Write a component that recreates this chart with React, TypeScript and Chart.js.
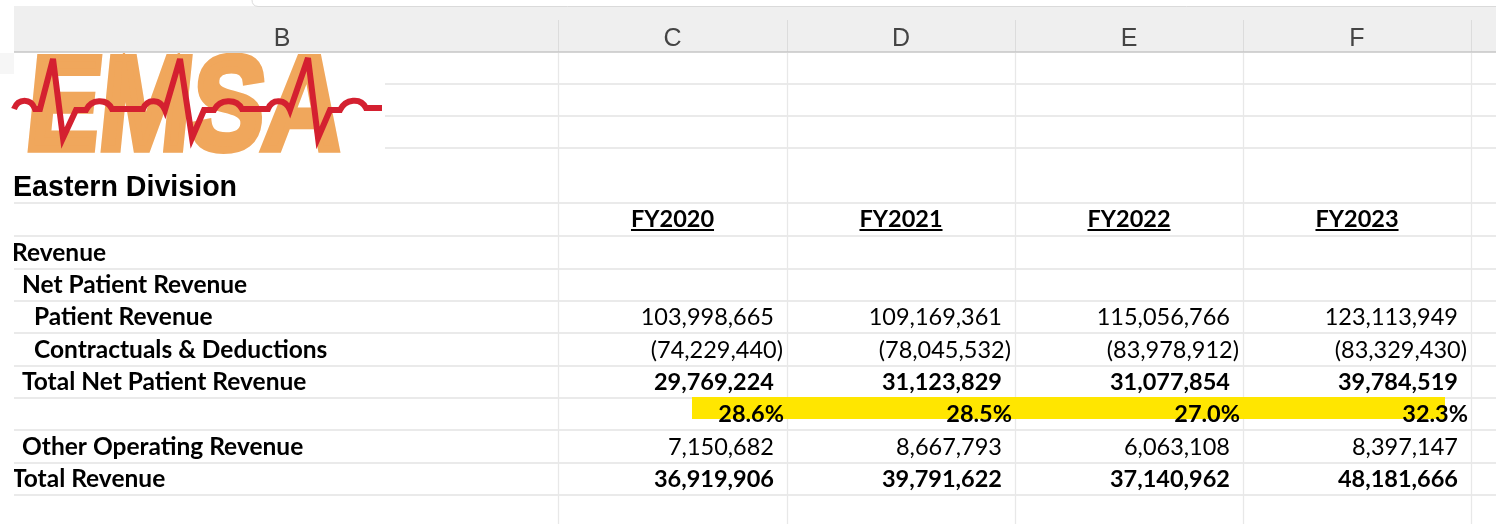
import React, { useEffect, useRef } from 'react';
import { Chart, registerables } from 'chart.js';

Chart.register(...registerables);

// ---------- data ----------
const columnLetters = ['B', 'C', 'D', 'E', 'F'];
const fiscalYears = ['FY2020', 'FY2021', 'FY2022', 'FY2023'];
const sheetTitle = 'Eastern Division';
const logoText = 'EMSA';
const rowLabels = [
  'Revenue',
  'Net Patient Revenue',
  'Patient Revenue',
  'Contractuals & Deductions',
  'Total Net Patient Revenue',
  '',
  'Other Operating Revenue',
  'Total Revenue',
];
const patientRevenue = [103998665, 109169361, 115056766, 123113949];
const contractualsDeductions = [-74229440, -78045532, -83978912, -83329430];
const totalNetPatientRevenue = [29769224, 31123829, 31077854, 39784519];
const netRevenuePercent = [28.6, 28.5, 27.0, 32.3];
const otherOperatingRevenue = [7150682, 8667793, 6063108, 8397147];
const totalRevenue = [36919906, 39791622, 37140962, 48181666];

// ---------- layout / style (not data) ----------
const W = 1496;
const H = 524;
const SHEET_LEFT = 14;
const HEADER_TOP = 6;
const HEADER_BOTTOM = 52;
const COL_EDGES = [6, 558, 787, 1015, 1243, 1471];
const ROW_EDGES = [52, 84, 116, 148, 203, 236, 269, 301, 333, 366, 398, 430, 463, 495, 527];
const LOGO_BOX = { x0: 14, x1: 385, y0: 52, y1: 155 };
const HIGHLIGHT = { x0: 692, x1: 1445, y0: 397, y1: 419 };
const LABEL_INDENT = [12, 22, 34, 34, 22, 22, 22, 12];
const LABEL_ROW_START = 5; // row index of "Revenue"
const BODY_FONT = '"Lato", "Open Sans", sans-serif';
const LABEL_SIZE = 24.5;
const NUM_SIZE = 23.5;

const valueRows = [
  { row: 7, values: patientRevenue, bold: false, kind: 'num' },
  { row: 8, values: contractualsDeductions, bold: false, kind: 'num' },
  { row: 9, values: totalNetPatientRevenue, bold: true, kind: 'num' },
  { row: 10, values: netRevenuePercent, bold: true, kind: 'pct' },
  { row: 11, values: otherOperatingRevenue, bold: false, kind: 'num' },
  { row: 12, values: totalRevenue, bold: true, kind: 'num' },
];

// ECG trace of the logo (decoration path, relative to logo box): L = line, B = bump
const ECG: Array<[string, number, number]> = [
  ['M', 0, 57], ['B', 21, 57], ['L', 26, 57], ['L', 39, 7], ['L', 49, 86], ['L', 62, 58],
  ['L', 72, 58], ['B', 98, 57], ['L', 129, 57], ['B', 151, 58], ['L', 166, 7], ['L', 178, 86],
  ['L', 190, 58], ['L', 200, 58], ['B', 228, 57], ['L', 254, 57], ['B', 276, 58], ['L', 294, 6],
  ['L', 304, 86], ['L', 316, 58], ['L', 326, 58], ['B', 352, 56], ['L', 368, 56],
];

const fmtNum = (n: number) => {
  const s = Math.abs(n).toLocaleString('en-US');
  return n < 0 ? '(' + s + ')' : s;
};

const sheetPlugin = {
  id: 'sheetPlugin',
  beforeDraw(chart: any) {
    const { ctx } = chart;
    const xs = chart.scales.x;
    const ys = chart.scales.y;
    const X = (v: number) => xs.getPixelForValue(v);
    const Y = (v: number) => ys.getPixelForValue(v);

    ctx.save();
    ctx.fillStyle = '#ffffff';
    ctx.fillRect(X(0), Y(0), X(W) - X(0), Y(H) - Y(0));

    // header band
    ctx.fillStyle = '#efefef';
    ctx.fillRect(X(SHEET_LEFT), Y(HEADER_TOP), X(W) - X(SHEET_LEFT), Y(HEADER_BOTTOM) - Y(HEADER_TOP));
    ctx.strokeStyle = '#dadada';
    ctx.lineWidth = 1;
    ctx.beginPath();
    ctx.moveTo(X(258), Y(HEADER_TOP) + 0.5);
    ctx.lineTo(X(W), Y(HEADER_TOP) + 0.5);
    ctx.stroke();
    ctx.beginPath();
    ctx.moveTo(X(258), Y(HEADER_TOP) + 0.5);
    ctx.quadraticCurveTo(X(252), Y(HEADER_TOP), X(252), Y(0));
    ctx.stroke();
    ctx.fillStyle = '#ffffff';
    ctx.fillRect(X(258), Y(0), X(W) - X(258), Y(HEADER_TOP) - Y(0));

    // header column separators
    ctx.strokeStyle = '#dcdcdc';
    for (let i = 1; i < COL_EDGES.length; i++) {
      ctx.beginPath();
      ctx.moveTo(X(COL_EDGES[i]) + 0.5, Y(20));
      ctx.lineTo(X(COL_EDGES[i]) + 0.5, Y(HEADER_BOTTOM));
      ctx.stroke();
    }
    // header letters
    ctx.fillStyle = '#444444';
    ctx.font = '25px "Liberation Sans", Arial, sans-serif';
    ctx.textAlign = 'center';
    ctx.textBaseline = 'alphabetic';
    columnLetters.forEach((l, i) => {
      const cx = (X(COL_EDGES[i]) + X(COL_EDGES[i + 1])) / 2;
      ctx.fillText(l, cx, Y(45.5));
    });
    // header bottom line
    ctx.strokeStyle = '#c6c6c6';
    ctx.lineWidth = 1.5;
    ctx.beginPath();
    ctx.moveTo(X(SHEET_LEFT), Y(HEADER_BOTTOM));
    ctx.lineTo(X(W), Y(HEADER_BOTTOM));
    ctx.stroke();

    // left strip hint
    ctx.fillStyle = '#f6f6f6';
    ctx.fillRect(X(0), Y(HEADER_BOTTOM) + 1, X(SHEET_LEFT) - X(0), Y(73) - Y(HEADER_BOTTOM));

    // grid lines
    ctx.lineWidth = 1.3;
    ctx.strokeStyle = '#e3e3e3';
    for (let i = 1; i < ROW_EDGES.length; i++) {
      const yy = Y(ROW_EDGES[i]);
      const x0 = ROW_EDGES[i] < LOGO_BOX.y1 ? LOGO_BOX.x1 : SHEET_LEFT;
      ctx.beginPath();
      ctx.moveTo(X(x0), yy);
      ctx.lineTo(X(W), yy);
      ctx.stroke();
    }
    ctx.strokeStyle = '#e8e8e8';
    for (let i = 1; i < COL_EDGES.length; i++) {
      ctx.beginPath();
      ctx.moveTo(X(COL_EDGES[i]) + 0.5, Y(HEADER_BOTTOM) + 1);
      ctx.lineTo(X(COL_EDGES[i]) + 0.5, Y(H));
      ctx.stroke();
    }

    // yellow highlight
    ctx.fillStyle = '#ffe600';
    ctx.fillRect(X(HIGHLIGHT.x0), Y(HIGHLIGHT.y0), X(HIGHLIGHT.x1) - X(HIGHLIGHT.x0), Y(HIGHLIGHT.y1) - Y(HIGHLIGHT.y0));

    // clip body text to sheet
    ctx.save();
    ctx.beginPath();
    ctx.rect(X(SHEET_LEFT), Y(HEADER_BOTTOM) + 1, X(W) - X(SHEET_LEFT), Y(H) - Y(HEADER_BOTTOM));
    ctx.clip();

    ctx.fillStyle = '#000000';
    ctx.textAlign = 'left';
    ctx.font = 'bold 28.6px "Liberation Sans", Arial, sans-serif';
    ctx.fillText(sheetTitle, X(13), Y(ROW_EDGES[4] - 7));

    // FY headers
    ctx.font = `bold ${NUM_SIZE}px ${BODY_FONT}`;
    ctx.textAlign = 'center';
    fiscalYears.forEach((fy, i) => {
      const cx = (X(COL_EDGES[i + 1]) + X(COL_EDGES[i + 2])) / 2;
      const by = Y(ROW_EDGES[5] - 9);
      ctx.fillText(fy, cx, by);
      const w = ctx.measureText(fy).width;
      ctx.fillRect(cx - w / 2, by + 2, w, 2);
    });

    // row labels
    ctx.font = `bold ${LABEL_SIZE}px ${BODY_FONT}`;
    ctx.textAlign = 'left';
    rowLabels.forEach((lab, i) => {
      if (!lab) return;
      const r = LABEL_ROW_START + i;
      ctx.fillText(lab, X(LABEL_INDENT[i]), Y(ROW_EDGES[r + 1] - 8));
    });

    // values
    ctx.textAlign = 'right';
    valueRows.forEach((vr) => {
      ctx.font = `${vr.bold ? 'bold ' : ''}${NUM_SIZE}px ${BODY_FONT}`;
      vr.values.forEach((v, i) => {
        const right = COL_EDGES[i + 2];
        const by = Y(ROW_EDGES[vr.row + 1] - 8);
        if (vr.kind === 'pct') {
          ctx.fillText(v.toFixed(1) + '%', X(right - 3), by);
        } else {
          ctx.fillText(fmtNum(v), X(right - (v < 0 ? 4 : 13)), by);
        }
      });
    });
    ctx.restore();

    // logo
    ctx.fillStyle = '#ffffff';
    ctx.fillRect(X(LOGO_BOX.x0), Y(LOGO_BOX.y0) + 1, X(LOGO_BOX.x1) - X(LOGO_BOX.x0), Y(LOGO_BOX.y1) - Y(LOGO_BOX.y0) - 1);
    ctx.save();
    ctx.beginPath();
    ctx.rect(X(LOGO_BOX.x0), Y(LOGO_BOX.y0) + 1, X(LOGO_BOX.x1) - X(LOGO_BOX.x0), Y(LOGO_BOX.y1) - Y(LOGO_BOX.y0));
    ctx.clip();
    ctx.font = 'bold 100px "Liberation Sans Narrow", "Liberation Sans", sans-serif';
    ctx.textAlign = 'left';
    const m = ctx.measureText(logoText);
    const capH = m.actualBoundingBoxAscent;
    const inkW = m.actualBoundingBoxRight + m.actualBoundingBoxLeft;
    const strokeW = 6;
    const sx = (X(340) - X(27) - strokeW) / inkW;
    const sy = (Y(152) - Y(53) - strokeW) / capH;
    ctx.translate(X(27) + strokeW / 2, Y(152) - strokeW / 2);
    ctx.transform(1, 0, -0.1, 1, 0, 0);
    ctx.scale(sx, sy);
    ctx.fillStyle = '#f0a75c';
    ctx.strokeStyle = '#f0a75c';
    ctx.lineWidth = strokeW / sx;
    ctx.lineJoin = 'miter';
    ctx.fillText(logoText, m.actualBoundingBoxLeft, 0);
    ctx.strokeText(logoText, m.actualBoundingBoxLeft, 0);
    ctx.restore();

    ctx.strokeStyle = '#d42030';
    ctx.lineWidth = 6;
    ctx.lineJoin = 'miter';
    ctx.miterLimit = 4;
    ctx.lineCap = 'butt';
    ctx.beginPath();
    let cx0 = 0;
    let cy0 = 0;
    ECG.forEach(([cmd, ex, ey]) => {
      const px = X(LOGO_BOX.x0 + ex);
      const py = Y(LOGO_BOX.y0 + ey);
      if (cmd === 'M') ctx.moveTo(px, py);
      else if (cmd === 'L') ctx.lineTo(px, py);
      else {
        const h = Y(LOGO_BOX.y0 + 46) - Y(LOGO_BOX.y0 + 57);
        const dx = (px - cx0) / 5;
        ctx.bezierCurveTo(cx0 + dx, cy0 + h, px - dx, py + h, px, py);
      }
      cx0 = px;
      cy0 = py;
    });
    ctx.stroke();

    ctx.restore();
  },
};

export default function App() {
  const canvasRef = useRef<HTMLCanvasElement | null>(null);

  useEffect(() => {
    let chart: Chart | null = null;
    let cancelled = false;
    const fontsReady = (document as any).fonts
      ? Promise.all([
          (document as any).fonts.load(`${NUM_SIZE}px Lato`),
          (document as any).fonts.load(`bold ${LABEL_SIZE}px Lato`),
          (document as any).fonts.load('bold 28px "Liberation Sans"'),
          (document as any).fonts.load('25px "Liberation Sans"'),
          (document as any).fonts.load('bold 100px "Liberation Sans Narrow"'),
        ]).catch(() => null)
      : Promise.resolve(null);
    fontsReady.then(() => {
      if (cancelled || !canvasRef.current) return;
      chart = new Chart(canvasRef.current, {
        type: 'scatter',
        data: { datasets: [{ data: [], pointRadius: 0 }] },
        options: {
          animation: false,
          responsive: true,
          maintainAspectRatio: false,
          devicePixelRatio: 1,
          layout: { padding: 0 },
          events: [],
          plugins: { legend: { display: false }, tooltip: { enabled: false } },
          scales: {
            x: { type: 'linear', min: 0, max: W, display: false },
            y: { type: 'linear', min: 0, max: H, reverse: true, display: false },
          },
        },
        plugins: [sheetPlugin],
      });
    });
    return () => {
      cancelled = true;
      if (chart) chart.destroy();
    };
  }, []);

  return (
    <div style={{ position: 'fixed', left: 0, top: 0, width: W, height: H, background: '#fff' }}>
      <canvas ref={canvasRef} />
    </div>
  );
}
